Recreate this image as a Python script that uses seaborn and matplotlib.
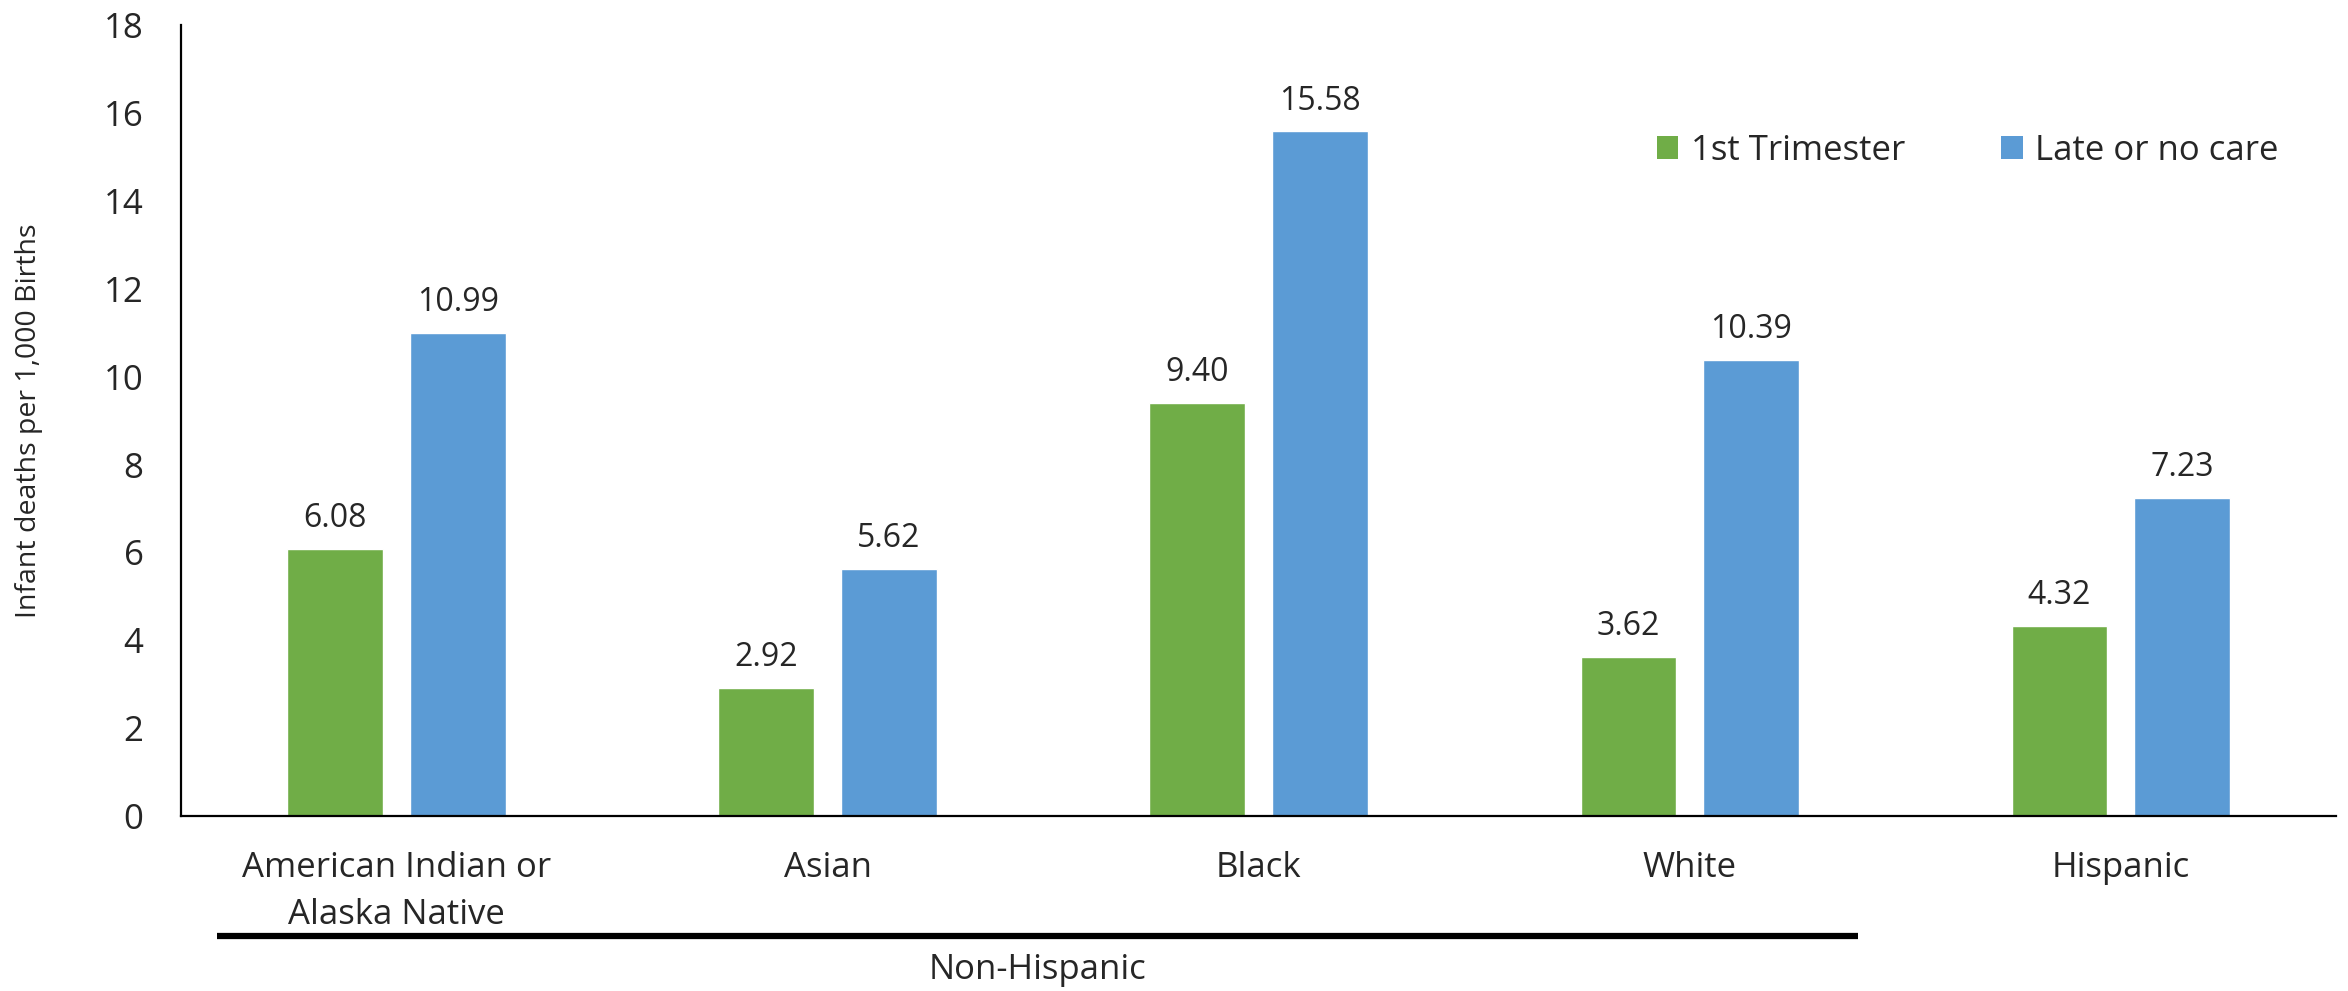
import matplotlib
matplotlib.use("Agg")
import matplotlib.pyplot as plt
import matplotlib.transforms as mtransforms
from matplotlib.patches import Patch
import seaborn as sns
import pandas as pd

# Infant mortality by timing of prenatal care and race/ethnicity
groups = ["American Indian or\nAlaska Native", "Asian", "Black", "White", "Hispanic"]
series = ["1st Trimester", "Late or no care"]
first_trimester = [6.08, 2.92, 9.40, 3.62, 4.32]
late_or_no_care = [10.99, 5.62, 15.58, 10.39, 7.23]
colors = ["#70AD47", "#5B9BD5"]
y_ticks = [0, 2, 4, 6, 8, 10, 12, 14, 16, 18]

df = pd.DataFrame({
    "group": groups * 2,
    "care": [series[0]] * len(groups) + [series[1]] * len(groups),
    "rate": first_trimester + late_or_no_care,
})

sns.set_theme(style="white")
plt.rcParams["font.family"] = ["Open Sans", "DejaVu Sans"]

fig = plt.figure(figsize=(23.48, 9.91), dpi=100)
ax = fig.add_axes([0.0771, 0.1766, 0.918, 0.798])

sns.barplot(data=df, x="group", y="rate", hue="care", order=groups,
            hue_order=series, palette=colors, width=0.57, gap=0.22,
            saturation=1, ax=ax, legend=False)

for cont in ax.containers:
    ax.bar_label(cont, fmt="%.2f", padding=10, fontsize=23)

ax.set_ylim(0, 18)
ax.set_yticks(y_ticks)
ax.set_xlim(-0.5, len(groups) - 0.5)
ax.tick_params(axis="y", labelsize=25, length=0, pad=27)
ax.tick_params(axis="x", labelsize=25, length=0, pad=25)
for lbl in ax.get_xticklabels():
    lbl.set_linespacing(1.52)
ax.set_xlabel("")
ax.set_ylabel("Infant deaths per 1,000 Births", fontsize=20.5)
ax.yaxis.set_label_coords(-0.064, 0.5)

for side in ["top", "right"]:
    ax.spines[side].set_visible(False)
for side in ["left", "bottom"]:
    ax.spines[side].set_color("black")
    ax.spines[side].set_linewidth(1.6)

# Bracket under the non-Hispanic groups
trans = mtransforms.blended_transform_factory(ax.transData, ax.transAxes)
ax.plot([-0.416, 3.389], [-0.152, -0.152], transform=trans, color="black",
        linewidth=4.5, solid_capstyle="butt", clip_on=False)
ax.text((-0.416 + 3.389) / 2, -0.195, "Non-Hispanic", transform=trans,
        ha="center", va="center", fontsize=25)

handles = [Patch(facecolor=c, edgecolor="none") for c in colors]
fig.legend(handles, series, loc="center left", bbox_to_anchor=(0.7055, 0.848),
           ncol=2, frameon=False, fontsize=25, handlelength=0.63,
           handleheight=0.63, handletextpad=0.35, columnspacing=2.77,
           borderpad=0, borderaxespad=0)

fig.savefig("out.png", dpi=100, facecolor="white")
